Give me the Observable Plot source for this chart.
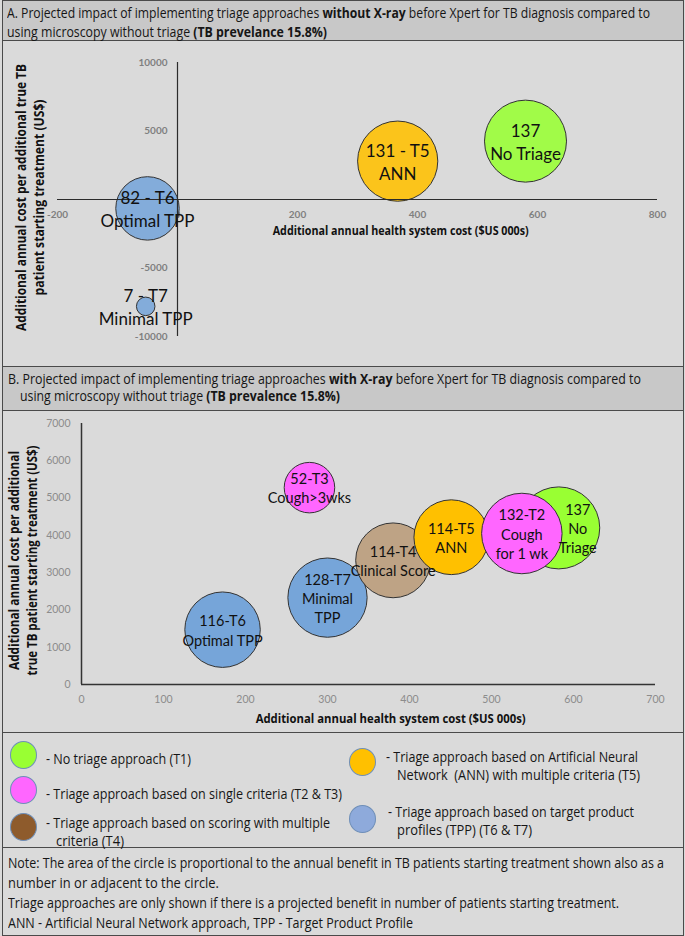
<!DOCTYPE html>
<html><head><meta charset="utf-8">
<script src="https://cdn.jsdelivr.net/npm/d3@7"></script>
<script src="https://cdn.jsdelivr.net/npm/@observablehq/plot@0.6"></script>
<style>
html,body{margin:0;padding:0;background:#dadada;}
#fig{position:relative;width:685px;height:936px;background:#dadada;overflow:hidden;font-family:"Liberation Sans Narrow","Open Sans",sans-serif;color:#161616;}
.box{position:absolute;left:2px;width:682px;box-sizing:border-box;border:1.5px solid #4a4a4a;}
.line{position:absolute;white-space:nowrap;font-size:14px;line-height:16px;transform-origin:0 50%;}
.chart{position:absolute;left:0;}
.ell{position:absolute;width:27px;height:28px;border-radius:50%;box-sizing:border-box;border:1px solid #6f8fb8;}
</style></head><body><div id="fig"></div>
<script>
// ---------- Panel A data (without X-ray) ----------
const aLabels  = ["137\nNo Triage", "131 - T5\nANN", "82 - T6\nOptimal TPP", "7 - T7\nMinimal TPP"];
const aGroups  = ["T1", "T5", "TPP", "TPP"];
const aBenefit = [137, 131, 82, 7];
const aCost    = [580, 367, -50, -53];
const aCostPer = [4260, 2800, -650, -7800];
const aXTicks  = [-200, 0, 200, 400, 600, 800];
const aYTicks  = [-10000, -5000, 0, 5000, 10000];

// ---------- Panel B data (with X-ray) ----------
const bLabels  = ["137\nNo\nTriage", "116-T6\nOptimal TPP", "128-T7\nMinimal\nTPP", "114-T4\nClinical Score", "114-T5\nANN", "132-T2\nCough\nfor 1 wk", "52-T3\nCough>3wks"];
const bGroups  = ["T1", "TPP", "TPP", "T4", "T5", "T2T3", "T2T3"];
const bBenefit = [137, 116, 128, 114, 114, 132, 52];
const bCost    = [582, 172, 300, 380, 451, 537, 278];
const bCostPer = [4200, 1470, 2330, 3330, 3950, 4050, 5280];
const bXTicks  = [0, 100, 200, 300, 400, 500, 600, 700];
const bYTicks  = [0, 1000, 2000, 3000, 4000, 5000, 6000, 7000];

// ---------- groups / colours ----------
const groupKeys   = ["T1", "T2T3", "T4", "T5", "TPP"];
const bubbleFills = ["#99ff33", "#ff66ff", "#bea385", "#ffc000", "#76a5d9"];
const legendFills = ["#99ff33", "#ff66ff", "#8e5b2c", "#ffc000", "#8eaadb"];

const xTitle  = "Additional annual health system cost ($US 000s)";
const yTitleA = "Additional annual cost per additional true TB\npatient starting treatment (US$)";
const yTitleB = "Additional annual cost per additional\ntrue TB patient starting treatment (US$)";

const titleFont = '"Open Sans", sans-serif';
const human  = 'Lato, "Open Sans", sans-serif';

const fig = document.getElementById("fig");
function box(top, h, bg) {
  const d = document.createElement("div");
  d.className = "box"; d.style.top = top + "px"; d.style.height = h + "px";
  if (bg) d.style.background = bg;
  fig.appendChild(d);
}
box(0, 41, "#c8c8c8");
box(40, 327);
box(366, 45, "#c8c8c8");
box(410, 323);
box(732, 116);
box(847, 89);

const fits = [];
function line(html, x, cy, w, size) {
  const d = document.createElement("div");
  d.className = "line";
  d.innerHTML = html;
  d.style.left = x + "px";
  d.style.top = (cy - 8) + "px";
  if (size) d.style.fontSize = size + "px";
  fig.appendChild(d);
  if (w) fits.push([d, w]);
}

// headers
line("A. Projected impact of implementing triage approaches <b>without X-ray</b> before Xpert for TB diagnosis compared to", 7, 13, 643, 14.5);
line("using microscopy without triage <b>(TB prevelance 15.8%)</b>", 7, 32, 320, 14.5);
line("B. Projected impact of implementing triage approaches <b>with X-ray</b> before Xpert for TB diagnosis compared to", 8, 379, 633, 14.5);
line("using microscopy without triage <b>(TB prevalence 15.8%)</b>", 20, 396, 320, 14.5);

// legend
const legendItems = [
  {g: 0, cx: 23, cy: 755, lines: [["- No triage approach (T1)", 46, 759, 145]]},
  {g: 1, cx: 23, cy: 790, lines: [["- Triage approach based on single criteria (T2 &amp; T3)", 46, 794, 296]]},
  {g: 2, cx: 23, cy: 827, lines: [["- Triage approach based on scoring with multiple", 46, 823, 284], ["criteria (T4)", 56, 841, 68]]},
  {g: 3, cx: 362, cy: 762, lines: [["- Triage approach based on Artificial Neural", 386, 757, 252], ["Network&nbsp; (ANN) with multiple criteria (T5)", 397, 775, 243]]},
  {g: 4, cx: 362, cy: 819, lines: [["- Triage approach based on target product", 388, 812, 246], ["profiles (TPP) (T6 &amp; T7)", 397, 830, 135]]}
];
for (const it of legendItems) {
  const e = document.createElement("div");
  e.className = "ell";
  e.style.left = (it.cx - 13.5) + "px";
  e.style.top = (it.cy - 14) + "px";
  e.style.background = legendFills[it.g];
  fig.appendChild(e);
  for (const [t, x, y, w] of it.lines) line(t, x, y, w);
}

// note
line("Note: The area of the circle is proportional to the annual benefit in TB patients starting treatment shown also as a", 8, 863, 656);
line("number in or adjacent to the circle.", 8, 883, 211);
line("Triage approaches are only shown if there is a projected benefit in number of patients starting treatment.", 8, 903, 611);
line("ANN - Artificial Neural Network approach, TPP - Target Product Profile", 8, 923, 405);

function fitAll() {
  for (const [d, w] of fits) {
    d.style.transform = "none";
    const cw = d.getBoundingClientRect().width;
    if (cw > 0) d.style.transform = `scaleX(${Math.max(0.7, Math.min(1.3, w / cw))})`;
  }
}
fitAll();
if (document.fonts && document.fonts.ready) document.fonts.ready.then(fitAll);

// condense SVG title texts to the reference's narrow (Calibri-like) widths
function condense(svg, widths) {
  svg.querySelectorAll("text, tspan").forEach(el => {
    if (el.children.length) return;
    const w = widths[el.textContent];
    if (w) { el.setAttribute("textLength", w); el.setAttribute("lengthAdjust", "spacingAndGlyphs"); }
  });
}

const rScale = {type: "sqrt", domain: [0, 137], range: [0, 41]};
const colorScale = {domain: groupKeys, range: bubbleFills};

// ---------- Chart A ----------
const aIdx = d3.range(aLabels.length);
const plotA = Plot.plot({
  width: 685, height: 326,
  marginLeft: 57, marginRight: 28, marginTop: 22, marginBottom: 30,
  x: {domain: [-200, 800], axis: null},
  y: {domain: [-10000, 10000], axis: null},
  r: rScale,
  color: colorScale,
  style: {background: "transparent", overflow: "visible"},
  marks: [
    Plot.text(aXTicks, {x: d => d, y: 0, dy: 15, text: d => String(d), fill: "#7f7f7f", fontWeight: "bold", fontSize: 10, fontFamily: human}),
    Plot.text(aYTicks, {x: 0, y: d => d, dx: -10, textAnchor: "end", text: d => String(d), fill: "#7f7f7f", fontWeight: "bold", fontSize: 10, fontFamily: human}),
    Plot.dot(aIdx, {x: i => aCost[i], y: i => aCostPer[i], r: i => aBenefit[i], fill: i => aGroups[i], fillOpacity: 0.88, stroke: "#333", strokeWidth: 1, sort: null}),
    Plot.ruleY([0], {x1: -200, x2: 800, stroke: "#2b2b2b", strokeWidth: 1.2}),
    Plot.ruleX([0], {y1: -10000, y2: 10000, stroke: "#2b2b2b", strokeWidth: 1.2}),
    Plot.text(aIdx, {x: i => aCost[i], y: i => aCostPer[i], text: i => aLabels[i], fontSize: 17, lineHeight: 1.35, fontFamily: human, fill: "#111"}),
    Plot.text([xTitle], {x: 372, y: 0, dy: 31, text: d => d, fontWeight: "bold", fontSize: 13, fontFamily: titleFont, fill: "#111"}),
    Plot.text([yTitleA], {frameAnchor: "left", textAnchor: "middle", dx: -28, dy: -2, rotate: -90, text: d => d, lineHeight: 1.35, fontWeight: "bold", fontSize: 13.5, fontFamily: titleFont, fill: "#111"})
  ]
});
condense(plotA, {
  [xTitle]: 256,
  "Additional annual cost per additional true TB": 267,
  "patient starting treatment (US$)": 196
});
plotA.classList.add("chart");
plotA.style.top = "40px";
fig.appendChild(plotA);

// ---------- Chart B ----------
const bIdx = d3.range(bLabels.length);
const plotB = Plot.plot({
  width: 685, height: 323,
  marginLeft: 81, marginRight: 30, marginTop: 13, marginBottom: 49,
  x: {domain: [0, 700], axis: null},
  y: {domain: [0, 7000], axis: null},
  r: rScale,
  color: colorScale,
  style: {background: "transparent", overflow: "visible"},
  marks: [
    Plot.text(bXTicks, {x: d => d, y: 0, dy: 15, text: d => String(d), fill: "#8c8c8c", fontSize: 10.5, fontFamily: human}),
    Plot.text(bYTicks, {x: 0, y: d => d, dx: -11, textAnchor: "end", text: d => String(d), fill: "#8c8c8c", fontSize: 10.5, fontFamily: human}),
    Plot.ruleY([0], {x1: 0, x2: 700, stroke: "#333", strokeWidth: 1.5}),
    Plot.ruleX([0], {y1: 0, y2: 7000, stroke: "#333", strokeWidth: 1.5}),
    Plot.dot(bIdx, {x: i => bCost[i], y: i => bCostPer[i], r: i => bBenefit[i], fill: i => bGroups[i], stroke: "#333", strokeWidth: 1, sort: null}),
    Plot.text(bIdx.filter(i => i !== 0), {x: i => bCost[i], y: i => bCostPer[i], text: i => bLabels[i], fontSize: 14.5, lineHeight: 1.33, fontFamily: human, fill: "#111"}),
    Plot.text([0], {x: i => bCost[i], y: i => bCostPer[i], dx: 19, text: i => bLabels[i], fontSize: 14.5, lineHeight: 1.33, fontFamily: human, fill: "#111"}),
    Plot.text([xTitle], {x: 377, y: 0, dy: 34, text: d => d, fontWeight: "bold", fontSize: 13, fontFamily: titleFont, fill: "#111"}),
    Plot.text([yTitleB], {frameAnchor: "left", textAnchor: "middle", dx: -59, dy: 6.5, rotate: -90, text: d => d, lineHeight: 1.35, fontWeight: "bold", fontSize: 13.5, fontFamily: titleFont, fill: "#111"})
  ]
});
condense(plotB, {
  [xTitle]: 270,
  "Additional annual cost per additional": 219,
  "true TB patient starting treatment (US$)": 230
});
plotB.classList.add("chart");
plotB.style.top = "410px";
fig.appendChild(plotB);
</script>
</body></html>
